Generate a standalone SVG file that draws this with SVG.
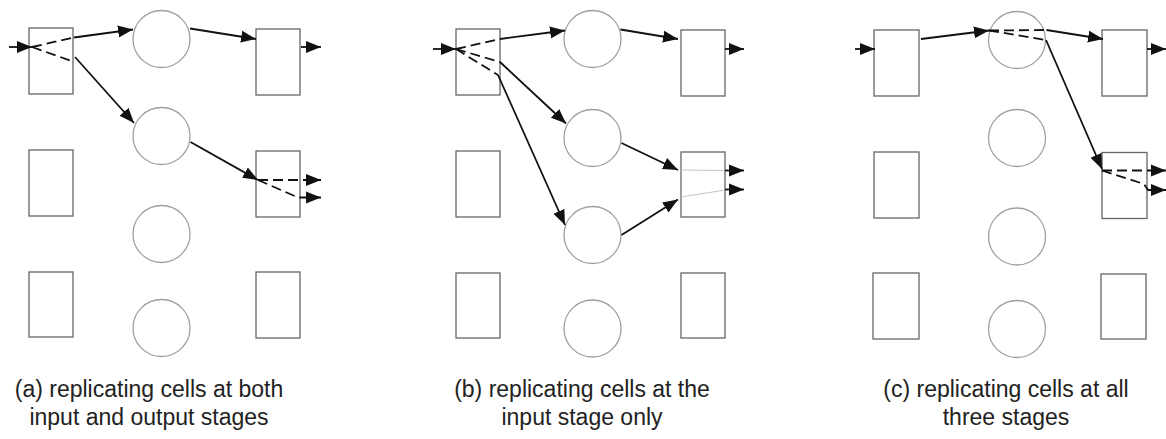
<svg xmlns="http://www.w3.org/2000/svg" width="1166" height="439" viewBox="0 0 1166 439">
  <style>
    .cell { fill: #ffffff; stroke: #666666; stroke-width: 1.3; }
    .sw { fill: #ffffff; stroke: #a0a0a0; stroke-width: 1.3; }
    .arr { fill: none; stroke: #111; stroke-width: 1.8; }
    .arrow { marker-end: url(#head); }
    .dash { stroke-dasharray: 10 5; }
    .faint { fill: none; stroke: #c4c4c4; stroke-width: 1; }
    .cap { font-family: "Liberation Sans", Arial, Helvetica, sans-serif; font-size: 23px; fill: #222; text-anchor: middle; }
  </style>
  <defs>
    <marker id="head" markerUnits="userSpaceOnUse" markerWidth="15" markerHeight="13" refX="15" refY="6.5" orient="auto">
      <path d="M0,0.5 L15,6.5 L0,12.5 z" fill="#111"/>
    </marker>
  </defs>
  <rect width="1166" height="439" fill="#ffffff"/>

  <!-- (a) input stage / switch stage / output stage -->
  <g id="a-in1"><rect class="cell" x="29" y="28" width="44" height="66"/></g>
  <g id="a-in2"><rect class="cell" x="29" y="150" width="44" height="66"/></g>
  <g id="a-in3"><rect class="cell" x="29" y="272" width="44" height="65"/></g>
  <g id="a-sw1"><circle class="sw" cx="161.5" cy="39" r="28.5"/></g>
  <g id="a-sw2"><circle class="sw" cx="161.5" cy="136" r="28.5"/></g>
  <g id="a-sw3"><circle class="sw" cx="161.5" cy="234" r="28.5"/></g>
  <g id="a-sw4"><circle class="sw" cx="161.5" cy="328" r="28.5"/></g>
  <g id="a-out1"><rect class="cell" x="256" y="29" width="44" height="66"/></g>
  <g id="a-out2"><rect class="cell" x="256" y="151" width="44" height="66"/></g>
  <g id="a-out3"><rect class="cell" x="256" y="272" width="44" height="66"/></g>

  <!-- (b) -->
  <g id="b-in1"><rect class="cell" x="456" y="29" width="44" height="66"/></g>
  <g id="b-in2"><rect class="cell" x="456" y="151" width="44" height="66"/></g>
  <g id="b-in3"><rect class="cell" x="456" y="273" width="44" height="65"/></g>
  <g id="b-sw1"><circle class="sw" cx="592.5" cy="39" r="28.5"/></g>
  <g id="b-sw2"><circle class="sw" cx="592.5" cy="138" r="28.5"/></g>
  <g id="b-sw3"><circle class="sw" cx="592.5" cy="235" r="28.5"/></g>
  <g id="b-sw4"><circle class="sw" cx="592.5" cy="328.5" r="28.5"/></g>
  <g id="b-out1"><rect class="cell" x="681" y="30" width="44" height="66"/></g>
  <g id="b-out2"><rect class="cell" x="681" y="152" width="44" height="65"/></g>
  <g id="b-out3"><rect class="cell" x="681" y="273" width="44" height="65"/></g>

  <!-- (c) -->
  <g id="c-in1"><rect class="cell" x="874" y="30" width="45" height="66"/></g>
  <g id="c-in2"><rect class="cell" x="874" y="152" width="45" height="66"/></g>
  <g id="c-in3"><rect class="cell" x="873" y="273" width="46" height="66"/></g>
  <g id="c-sw1"><circle class="sw" cx="1017" cy="40" r="28.5"/></g>
  <g id="c-sw2"><circle class="sw" cx="1017" cy="138" r="28.5"/></g>
  <g id="c-sw3"><circle class="sw" cx="1017" cy="236.5" r="28.5"/></g>
  <g id="c-sw4"><circle class="sw" cx="1017" cy="329" r="28.5"/></g>
  <g id="c-out1"><rect class="cell" x="1102" y="30" width="45" height="66"/></g>
  <g id="c-out2"><rect class="cell" x="1102" y="152.5" width="45" height="66"/></g>
  <g id="c-out3"><rect class="cell" x="1101" y="274" width="45" height="65"/></g>

  <g id="connectors">
    <!-- (a) copies made at the input and output cells -->
    <line class="arr arrow" x1="9" y1="47" x2="32" y2="47"/>
    <line class="arr dash" x1="32" y1="47" x2="74" y2="37.5"/>
    <line class="arr arrow" x1="74" y1="37.5" x2="133" y2="29.5"/>
    <line class="arr dash" x1="32" y1="47" x2="73" y2="61.5"/>
    <line class="arr arrow" x1="75" y1="57" x2="134" y2="123"/>
    <line class="arr arrow" x1="190" y1="28.5" x2="256" y2="39"/>
    <line class="arr arrow" x1="301" y1="47" x2="321" y2="47"/>
    <line class="arr arrow" x1="190.5" y1="142" x2="258" y2="180"/>
    <line class="arr dash arrow" x1="258" y1="180" x2="321" y2="180"/>
    <polyline class="arr dash arrow" points="258,180 298,197.5 321,197.5"/>

    <!-- (b) all copies made at the input cell -->
    <line class="arr arrow" x1="433" y1="49" x2="456" y2="49"/>
    <line class="arr dash" x1="456" y1="49" x2="500" y2="39"/>
    <line class="arr arrow" x1="500" y1="39" x2="565" y2="30.5"/>
    <line class="arr dash" x1="456" y1="49" x2="500" y2="62"/>
    <line class="arr arrow" x1="500" y1="62" x2="566" y2="123.5"/>
    <line class="arr dash" x1="456" y1="49" x2="498" y2="75"/>
    <line class="arr arrow" x1="498" y1="75" x2="565" y2="225"/>
    <line class="arr arrow" x1="620.5" y1="29.5" x2="678" y2="39"/>
    <line class="arr arrow" x1="725" y1="49" x2="744" y2="49"/>
    <line class="arr arrow" x1="621.5" y1="143" x2="678" y2="170"/>
    <line class="arr arrow" x1="621.5" y1="235" x2="678" y2="199.5"/>
    <line class="faint" x1="681" y1="170" x2="725" y2="170.5"/>
    <line class="faint" x1="681" y1="197" x2="725" y2="190"/>
    <line class="arr arrow" x1="725" y1="170.5" x2="744" y2="170.5"/>
    <line class="arr arrow" x1="725" y1="189.5" x2="744" y2="189.5"/>

    <!-- (c) copies made at every stage -->
    <line class="arr arrow" x1="855" y1="49" x2="875" y2="49"/>
    <line class="arr arrow" x1="921" y1="39" x2="989" y2="30.5"/>
    <line class="arr dash" x1="989" y1="30.5" x2="1046.5" y2="30"/>
    <line class="arr arrow" x1="1046.5" y1="30" x2="1103" y2="39"/>
    <line class="arr dash" x1="989" y1="30.5" x2="1046" y2="40"/>
    <line class="arr arrow" x1="1046" y1="40" x2="1102" y2="169"/>
    <line class="arr arrow" x1="1147" y1="49" x2="1166" y2="49"/>
    <line class="arr dash arrow" x1="1102" y1="170.5" x2="1166" y2="170.5"/>
    <polyline class="arr dash arrow" points="1102,170.5 1144,184 1148,190 1166,190"/>
  </g>

  <!-- captions -->
  <text class="cap" x="149" y="397">(a) replicating cells at both</text>
  <text class="cap" x="149" y="425">input and output stages</text>
  <text class="cap" x="582" y="397">(b) replicating cells at the</text>
  <text class="cap" x="582" y="425">input stage only</text>
  <text class="cap" x="1006" y="397">(c) replicating cells at all</text>
  <text class="cap" x="1006" y="425">three stages</text>
</svg>
